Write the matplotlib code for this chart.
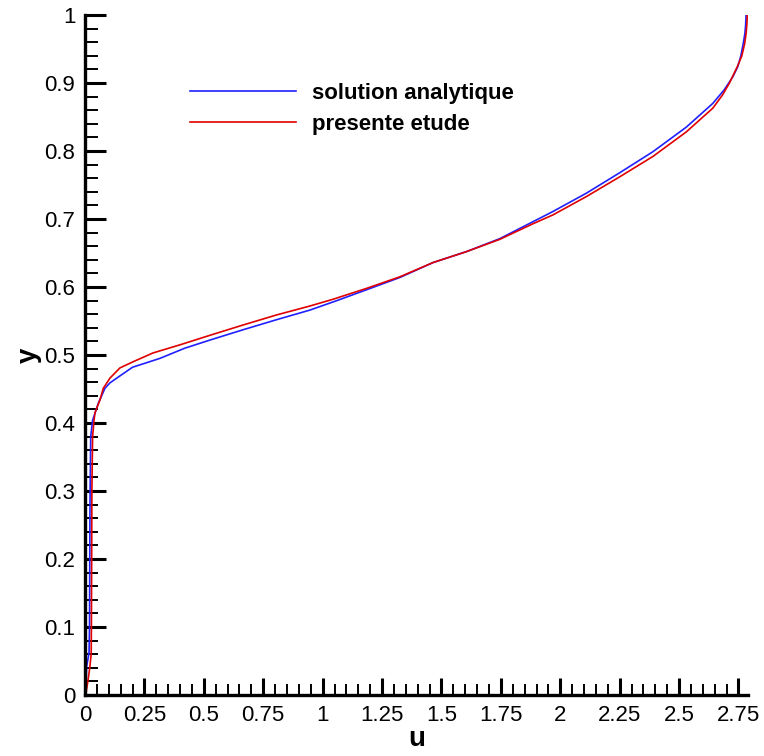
import numpy as np
import matplotlib
matplotlib.use('Agg')
import matplotlib.pyplot as plt
from matplotlib.ticker import MultipleLocator, FuncFormatter

# velocity profile u(y): analytical solution
y_ana = [0.0, 0.012, 0.042, 0.062, 0.1, 0.2, 0.282, 0.38, 0.404, 0.429, 0.451,
         0.459, 0.470, 0.482, 0.495, 0.510, 0.522, 0.537, 0.552, 0.566, 0.580,
         0.596, 0.614, 0.636, 0.652, 0.671, 0.696, 0.711, 0.738, 0.768, 0.799,
         0.835, 0.870, 0.890, 0.909, 0.924, 0.940, 0.958, 0.973, 0.985, 1.0]
u_ana = [0.002, 0.004, 0.007, 0.017, 0.019, 0.020, 0.021, 0.024, 0.032, 0.056, 0.084,
         0.105, 0.150, 0.200, 0.315, 0.420, 0.526, 0.664, 0.807, 0.946, 1.060,
         1.185, 1.325, 1.465, 1.605, 1.745, 1.885, 1.969, 2.110, 2.250, 2.390,
         2.530, 2.642, 2.690, 2.726, 2.747, 2.760, 2.770, 2.777, 2.780, 2.782]

# velocity profile u(y): present study
y_num = [0.0, 0.02, 0.04, 0.06, 0.1, 0.2, 0.3, 0.38, 0.404, 0.415, 0.434,
         0.451, 0.466, 0.481, 0.490, 0.503, 0.515, 0.529, 0.544, 0.559, 0.572,
         0.582, 0.598, 0.615, 0.636, 0.652, 0.670, 0.693, 0.706, 0.733, 0.762,
         0.792, 0.828, 0.863, 0.882, 0.900, 0.924, 0.940, 0.958, 0.973, 0.985, 1.0]
u_num = [0.003, 0.012, 0.020, 0.026, 0.027, 0.028, 0.029, 0.032, 0.038, 0.042, 0.063,
         0.077, 0.105, 0.147, 0.202, 0.286, 0.400, 0.526, 0.664, 0.807, 0.946,
         1.044, 1.185, 1.325, 1.465, 1.605, 1.745, 1.885, 1.969, 2.110, 2.250,
         2.390, 2.530, 2.642, 2.682, 2.712, 2.745, 2.764, 2.776, 2.782, 2.785, 2.787]

plt.rcParams['font.family'] = ['Liberation Sans', 'DejaVu Sans']

fig = plt.figure(figsize=(7.64, 7.56), dpi=100)
ax = fig.add_axes([85 / 764, 61 / 756, 663 / 764, 680 / 756])

ax.plot(u_ana, y_ana, color='#2020ff', lw=1.2, label='solution analytique')
ax.plot(u_num, y_num, color='#e00000', lw=1.2, label='presente etude')

ax.set_xlim(0, 2.79)
ax.set_ylim(0, 1)

for side in ['top', 'right']:
    ax.spines[side].set_visible(False)
for side in ['left', 'bottom']:
    ax.spines[side].set_linewidth(2.4)

ax.xaxis.set_major_locator(MultipleLocator(0.25))
ax.xaxis.set_minor_locator(MultipleLocator(0.05))
ax.yaxis.set_major_locator(MultipleLocator(0.1))
ax.yaxis.set_minor_locator(MultipleLocator(0.02))

fmt = FuncFormatter(lambda v, p: ('%.2f' % v).rstrip('0').rstrip('.'))
ax.xaxis.set_major_formatter(fmt)
ax.yaxis.set_major_formatter(fmt)

ax.tick_params(axis='both', which='both', direction='in', labelsize=16)
ax.tick_params(axis='y', which='major', length=15, width=2.2, pad=7)
ax.tick_params(axis='y', which='minor', length=9.5, width=1.4)
ax.tick_params(axis='x', which='major', length=12, width=2.2, pad=7)
ax.tick_params(axis='x', which='minor', length=8, width=1.4)

ax.set_xlabel('u', fontsize=20, fontweight='bold', labelpad=0)
ax.set_ylabel('y', fontsize=20, fontweight='bold', labelpad=2)

leg = ax.legend(loc='upper left', bbox_to_anchor=(0.158, 0.900), frameon=False,
                fontsize=16, handlelength=4.8, handletextpad=0.72,
                labelspacing=0.45, borderpad=0, borderaxespad=0)
for t in leg.get_texts():
    t.set_fontweight('bold')

fig.savefig('out.png', dpi=100)
